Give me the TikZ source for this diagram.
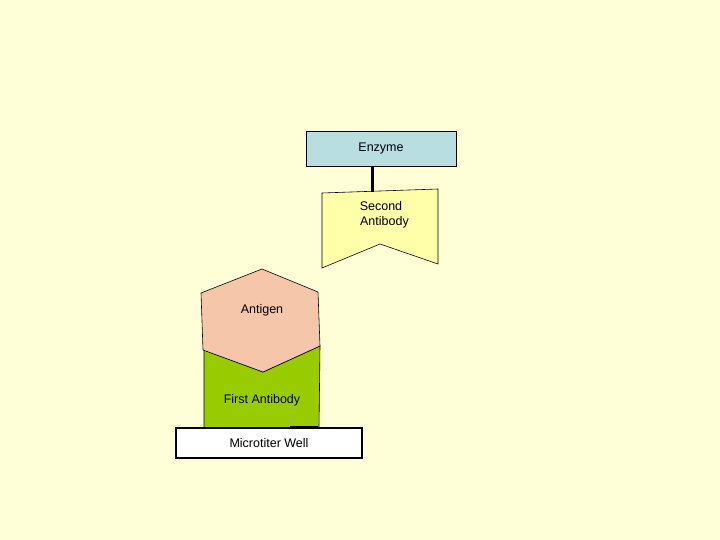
\documentclass[tikz,border=0pt]{standalone}
\usepackage{fontspec}
\setmainfont{Liberation Sans}
\definecolor{bg}{RGB}{255,255,215}
\definecolor{enz}{RGB}{184,222,226}
\definecolor{sec}{RGB}{255,255,170}
\definecolor{antig}{RGB}{246,198,170}
\definecolor{firstab}{RGB}{153,204,0}
\begin{document}
\begin{tikzpicture}[x=1pt,y=-1pt,
  lbl/.style={font=\fontsize{12.5}{15}\selectfont, align=center, inner sep=0pt},
  thinline/.style={draw=black, line width=0.6pt}]
\fill[bg] (0,0) rectangle (720,540);
\useasboundingbox (0,0) rectangle (720,540);
% first antibody
\filldraw[fill=firstab, thinline] (204,350) -- (263,372) -- (320,346) -- (319,428) -- (204,428) -- cycle;
% antigen
\filldraw[fill=antig, thinline] (262,269) -- (318,292) -- (320,346) -- (263,372) -- (203,350) -- (201,293) -- cycle;
\node[lbl] (antigen) at (262,310) {Antigen};
\node[lbl] (first) at (262,400) {First Antibody};
\draw[line width=1.5pt] (290,427) -- (318,427);
% microtiter well
\node[draw=black, line width=2pt, fill=white, minimum width=186pt, minimum height=30pt, lbl] (well) at (269,443) {Microtiter Well};
% enzyme
\node[thinline, fill=enz, minimum width=150pt, minimum height=35pt, lbl] (enzyme) at (381,148.5) {Enzyme};
% second antibody
\filldraw[fill=sec, thinline] (322,193) -- (438,189) -- (438,264) -- (380,244) -- (322,268) -- cycle;
\node[lbl] (second) at (381,215) {Second\\\ \ Antibody};
\coordinate (sectop) at (372,192);
\draw[line width=3pt] (enzyme.south -| sectop) -- (sectop);
\end{tikzpicture}
\end{document}
